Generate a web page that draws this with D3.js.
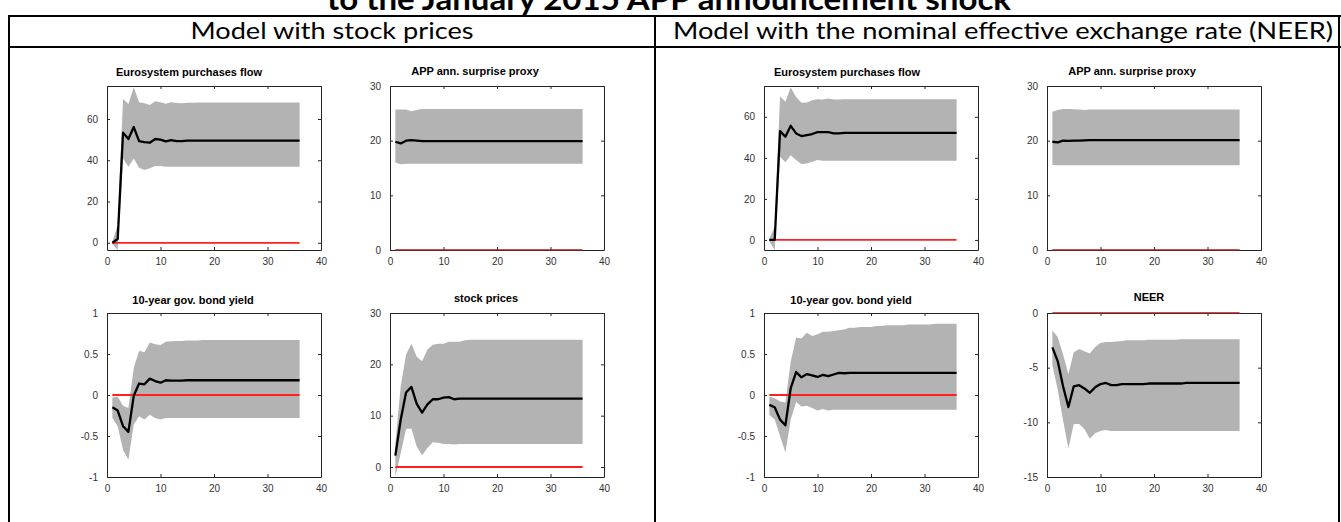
<!DOCTYPE html>
<html>
<head>
<meta charset="utf-8">
<script src="https://cdn.jsdelivr.net/npm/d3@7"></script>
<style>
body { margin: 0; background: #fff; }
svg { display: block; }
</style>
</head>
<body>
<div id="chart"></div>
<script>
// horizons (months after the shock)
var steps = d3.range(1, 37);
var xTicks = [0, 10, 20, 30, 40];

var titleText = "to the January 2015 APP announcement shock";
var columnTitles = ["Model with stock prices", "Model with the nominal effective exchange rate (NEER)"];
var panelTitles = ["Eurosystem purchases flow", "APP ann. surprise proxy", "10-year gov. bond yield", "stock prices",
                   "Eurosystem purchases flow", "APP ann. surprise proxy", "10-year gov. bond yield", "NEER"];

// ---- model with stock prices ----
var spFlowMed = [0, 1.8, 53.4, 50.3, 56.1, 49.3, 48.8, 48.5, 50.3, 50.0, 49.2, 49.8,
  49.3, 49.3, 49.5, 49.5, 49.5, 49.5, 49.5, 49.5, 49.5, 49.5, 49.5, 49.5,
  49.5, 49.5, 49.5, 49.5, 49.5, 49.5, 49.5, 49.5, 49.5, 49.5, 49.5, 49.5];
var spFlowHi = [0.6, 8.6, 69.7, 67.3, 75.4, 68.1, 67.6, 66.8, 68.6, 68.1, 67.4, 68.1,
  67.8, 67.6, 67.9, 67.9, 68.0, 68.0, 68.0, 68.0, 68.0, 68.0, 68.0, 68.0,
  68.0, 68.0, 68.0, 68.0, 68.0, 68.0, 68.0, 68.0, 68.0, 68.0, 68.0, 68.0];
var spFlowLo = [-0.6, -3.5, 40.9, 36.9, 40.8, 36.4, 35.3, 36.1, 37.2, 37.2, 36.9, 36.9,
  36.8, 36.8, 36.9, 36.9, 36.9, 36.9, 36.9, 36.9, 36.9, 36.9, 36.9, 36.9,
  36.9, 36.9, 36.9, 36.9, 36.9, 36.9, 36.9, 36.9, 36.9, 36.9, 36.9, 36.9];

var spAppMed = [19.8, 19.5, 20.0, 20.1, 20.0, 19.9, 19.9, 19.9, 19.9, 19.9, 19.9, 19.9,
  19.9, 19.9, 19.9, 19.9, 19.9, 19.9, 19.9, 19.9, 19.9, 19.9, 19.9, 19.9,
  19.9, 19.9, 19.9, 19.9, 19.9, 19.9, 19.9, 19.9, 19.9, 19.9, 19.9, 19.9];
var spAppHi = [25.7, 25.7, 25.7, 25.4, 25.6, 25.8, 25.8, 25.8, 25.8, 25.8, 25.8, 25.8,
  25.8, 25.8, 25.8, 25.8, 25.8, 25.8, 25.8, 25.8, 25.8, 25.8, 25.8, 25.8,
  25.8, 25.8, 25.8, 25.8, 25.8, 25.8, 25.8, 25.8, 25.8, 25.8, 25.8, 25.8];
var spAppLo = [16.0, 15.7, 15.8, 15.8, 15.8, 15.8, 15.8, 15.8, 15.8, 15.8, 15.8, 15.8,
  15.8, 15.8, 15.8, 15.8, 15.8, 15.8, 15.8, 15.8, 15.8, 15.8, 15.8, 15.8,
  15.8, 15.8, 15.8, 15.8, 15.8, 15.8, 15.8, 15.8, 15.8, 15.8, 15.8, 15.8];

var spYieldMed = [-0.15, -0.19, -0.38, -0.45, -0.01, 0.14, 0.13, 0.20, 0.17, 0.15, 0.18, 0.175,
  0.175, 0.175, 0.18, 0.18, 0.18, 0.18, 0.18, 0.18, 0.18, 0.18, 0.18, 0.18,
  0.18, 0.18, 0.18, 0.18, 0.18, 0.18, 0.18, 0.18, 0.18, 0.18, 0.18, 0.18];
var spYieldHi = [-0.03, -0.02, -0.13, -0.16, 0.33, 0.54, 0.52, 0.64, 0.62, 0.61, 0.65, 0.655,
  0.66, 0.66, 0.665, 0.665, 0.665, 0.67, 0.67, 0.67, 0.67, 0.67, 0.67, 0.67,
  0.67, 0.67, 0.67, 0.67, 0.67, 0.67, 0.67, 0.67, 0.67, 0.67, 0.67, 0.67];
var spYieldLo = [-0.28, -0.38, -0.67, -0.79, -0.36, -0.26, -0.30, -0.24, -0.28, -0.30, -0.28, -0.28,
  -0.28, -0.28, -0.28, -0.28, -0.28, -0.28, -0.28, -0.28, -0.28, -0.28, -0.28, -0.28,
  -0.28, -0.28, -0.28, -0.28, -0.28, -0.28, -0.28, -0.28, -0.28, -0.28, -0.28, -0.28];

var spStockMed = [2.2, 9.2, 14.5, 15.6, 12.3, 10.6, 12.2, 13.2, 13.2, 13.5, 13.6, 13.2,
  13.3, 13.3, 13.3, 13.3, 13.3, 13.3, 13.3, 13.3, 13.3, 13.3, 13.3, 13.3,
  13.3, 13.3, 13.3, 13.3, 13.3, 13.3, 13.3, 13.3, 13.3, 13.3, 13.3, 13.3];
var spStockHi = [4.5, 15.7, 21.9, 24.0, 21.5, 20.6, 22.9, 23.8, 24.0, 24.0, 24.4, 24.4,
  24.4, 24.7, 24.8, 24.8, 24.8, 24.8, 24.8, 24.8, 24.8, 24.8, 24.8, 24.8,
  24.8, 24.8, 24.8, 24.8, 24.8, 24.8, 24.8, 24.8, 24.8, 24.8, 24.8, 24.8];
var spStockLo = [-1.9, 2.7, 7.4, 7.5, 4.0, 2.3, 3.7, 4.8, 4.7, 4.5, 4.5, 4.4,
  4.5, 4.5, 4.5, 4.5, 4.5, 4.5, 4.5, 4.5, 4.5, 4.5, 4.5, 4.5,
  4.5, 4.5, 4.5, 4.5, 4.5, 4.5, 4.5, 4.5, 4.5, 4.5, 4.5, 4.5];

// ---- model with the NEER ----
var neFlowMed = [0, 0, 53.0, 50.3, 55.6, 51.9, 50.6, 51.1, 51.6, 52.5, 52.5, 52.5,
  51.9, 51.9, 52.2, 52.2, 52.2, 52.2, 52.2, 52.2, 52.2, 52.2, 52.2, 52.2,
  52.2, 52.2, 52.2, 52.2, 52.2, 52.2, 52.2, 52.2, 52.2, 52.2, 52.2, 52.2];
var neFlowHi = [0.6, 6.5, 70.0, 67.3, 74.3, 69.7, 66.8, 67.0, 68.1, 68.6, 68.4, 68.9,
  68.4, 68.4, 68.5, 68.6, 68.6, 68.6, 68.6, 68.6, 68.6, 68.6, 68.6, 68.6,
  68.6, 68.6, 68.6, 68.6, 68.6, 68.6, 68.6, 68.6, 68.6, 68.6, 68.6, 68.6];
var neFlowLo = [-0.6, -4.9, 40.5, 37.8, 41.3, 38.9, 37.0, 37.3, 38.1, 38.9, 38.6, 38.6,
  38.6, 38.6, 38.6, 38.6, 38.6, 38.6, 38.6, 38.6, 38.6, 38.6, 38.6, 38.6,
  38.6, 38.6, 38.6, 38.6, 38.6, 38.6, 38.6, 38.6, 38.6, 38.6, 38.6, 38.6];

var neAppMed = [19.8, 19.7, 20.0, 19.95, 20.0, 20.0, 20.05, 20.1, 20.1, 20.1, 20.1, 20.1,
  20.1, 20.1, 20.1, 20.1, 20.1, 20.1, 20.1, 20.1, 20.1, 20.1, 20.1, 20.1,
  20.1, 20.1, 20.1, 20.1, 20.1, 20.1, 20.1, 20.1, 20.1, 20.1, 20.1, 20.1];
var neAppHi = [25.3, 25.6, 25.8, 25.8, 25.75, 25.7, 25.6, 25.7, 25.7, 25.7, 25.7, 25.7,
  25.7, 25.7, 25.7, 25.7, 25.7, 25.7, 25.7, 25.7, 25.7, 25.7, 25.7, 25.7,
  25.7, 25.7, 25.7, 25.7, 25.7, 25.7, 25.7, 25.7, 25.7, 25.7, 25.7, 25.7];
var neAppLo = [15.6, 15.5, 15.5, 15.5, 15.5, 15.5, 15.5, 15.5, 15.5, 15.5, 15.5, 15.5,
  15.5, 15.5, 15.5, 15.5, 15.5, 15.5, 15.5, 15.5, 15.5, 15.5, 15.5, 15.5,
  15.5, 15.5, 15.5, 15.5, 15.5, 15.5, 15.5, 15.5, 15.5, 15.5, 15.5, 15.5];

var neYieldMed = [-0.12, -0.15, -0.30, -0.37, 0.085, 0.28, 0.215, 0.255, 0.24, 0.22, 0.245, 0.23,
  0.25, 0.27, 0.265, 0.27, 0.27, 0.27, 0.27, 0.27, 0.27, 0.27, 0.27, 0.27,
  0.27, 0.27, 0.27, 0.27, 0.27, 0.27, 0.27, 0.27, 0.27, 0.27, 0.27, 0.27];
var neYieldHi = [-0.02, -0.04, -0.08, -0.09, 0.41, 0.70, 0.69, 0.76, 0.72, 0.74, 0.77, 0.77,
  0.78, 0.79, 0.80, 0.82, 0.82, 0.83, 0.83, 0.83, 0.84, 0.84, 0.85, 0.85,
  0.85, 0.85, 0.86, 0.86, 0.86, 0.86, 0.86, 0.87, 0.87, 0.87, 0.87, 0.87];
var neYieldLo = [-0.24, -0.30, -0.50, -0.70, -0.30, -0.085, -0.14, -0.13, -0.16, -0.19, -0.17, -0.19,
  -0.18, -0.18, -0.18, -0.18, -0.18, -0.18, -0.18, -0.18, -0.18, -0.18, -0.18, -0.18,
  -0.18, -0.18, -0.18, -0.18, -0.18, -0.18, -0.18, -0.18, -0.18, -0.18, -0.18, -0.18];

var neNeerMed = [-3.15, -4.4, -6.7, -8.6, -6.7, -6.6, -6.9, -7.3, -6.8, -6.5, -6.4, -6.6,
  -6.6, -6.5, -6.5, -6.5, -6.5, -6.5, -6.45, -6.45, -6.45, -6.45, -6.45, -6.45,
  -6.45, -6.4, -6.4, -6.4, -6.4, -6.4, -6.4, -6.4, -6.4, -6.4, -6.4, -6.4];
var neNeerHi = [-1.6, -2.2, -3.8, -5.6, -3.6, -3.3, -3.5, -3.7, -3.1, -2.75, -2.65, -2.65,
  -2.6, -2.55, -2.5, -2.5, -2.5, -2.5, -2.45, -2.45, -2.45, -2.45, -2.45, -2.45,
  -2.4, -2.4, -2.4, -2.4, -2.4, -2.4, -2.4, -2.4, -2.4, -2.4, -2.4, -2.4];
var neNeerLo = [-4.75, -7.0, -9.8, -12.4, -10.15, -10.15, -10.6, -11.5, -11.0, -10.8, -10.7, -10.8,
  -10.8, -10.8, -10.8, -10.8, -10.8, -10.8, -10.8, -10.8, -10.8, -10.8, -10.8, -10.8,
  -10.8, -10.8, -10.8, -10.8, -10.8, -10.8, -10.8, -10.8, -10.8, -10.8, -10.8, -10.8];

// y axis ranges (tight, as in the figure) and ticks
var yDomains = [[-3.5, 76], [0, 30], [-1, 1], [-1.95, 30], [-4.9, 75], [0, 30], [-1, 1], [-15, 0]];
var yTicks = [[0, 20, 40, 60], [0, 10, 20, 30], [-1, -0.5, 0, 0.5, 1], [0, 10, 20, 30],
              [0, 20, 40, 60], [0, 10, 20, 30], [-1, -0.5, 0, 0.5, 1], [-15, -10, -5, 0]];

var series = [
  [spFlowMed, spFlowLo, spFlowHi], [spAppMed, spAppLo, spAppHi],
  [spYieldMed, spYieldLo, spYieldHi], [spStockMed, spStockLo, spStockHi],
  [neFlowMed, neFlowLo, neFlowHi], [neAppMed, neAppLo, neAppHi],
  [neYieldMed, neYieldLo, neYieldHi], [neNeerMed, neNeerLo, neNeerHi]
];

// layout
var W = 1341, H = 522;
var plotW = 214, plotH = 164;
var boxLeft = [107, 390, 107, 390, 764, 1047, 764, 1047];
var boxTop = [86, 86, 313, 313, 86, 86, 313, 313];
var titleX = [189, 475, 193, 486, 847, 1132, 851, 1149];
var titleY = [76, 75, 304, 302, 76, 75, 304, 301];

var svg = d3.select("#chart").append("svg")
  .attr("width", W)
  .attr("height", H);

// heading (cut off at the top of the picture, as in the source)
svg.append("text")
  .attr("x", 669)
  .attr("y", 10)
  .attr("text-anchor", "middle")
  .attr("textLength", 684)
  .attr("lengthAdjust", "spacingAndGlyphs")
  .style("font-family", "Lato, 'Open Sans', sans-serif")
  .style("font-weight", "bold")
  .style("font-size", "30px")
  .attr("fill", "#000")
  .text(titleText);

// table frame
var frame = svg.append("g")
  .attr("stroke", "#000")
  .attr("stroke-width", 2);
frame.append("line").attr("x1", 8).attr("y1", 16).attr("x2", W).attr("y2", 16);
frame.append("line").attr("x1", 8).attr("y1", 47).attr("x2", W).attr("y2", 47);
[9, 655, 1339].forEach(function(xv) {
  frame.append("line").attr("x1", xv).attr("y1", 15).attr("x2", xv).attr("y2", H);
});

var headX = [332, 1003];
var headLen = [283, 660];
columnTitles.forEach(function(t, i) {
  svg.append("text")
    .attr("x", headX[i])
    .attr("y", 39)
    .attr("text-anchor", "middle")
    .attr("textLength", headLen[i])
    .attr("lengthAdjust", "spacingAndGlyphs")
    .style("font-family", "Lato, 'Open Sans', sans-serif")
    .style("font-size", "24px")
    .attr("fill", "#000")
    .text(t);
});

function drawPanel(i) {
  var med = series[i][0], lo = series[i][1], hi = series[i][2];
  var x = d3.scaleLinear().domain([0, 40]).range([boxLeft[i], boxLeft[i] + plotW]);
  var y = d3.scaleLinear().domain(yDomains[i]).range([boxTop[i] + plotH, boxTop[i]]);
  var g = svg.append("g");

  var band = d3.area()
    .x(function(d, k) { return x(steps[k]); })
    .y0(function(d, k) { return y(lo[k]); })
    .y1(function(d, k) { return y(hi[k]); });
  g.append("path")
    .datum(med)
    .attr("d", band)
    .attr("fill", "#b3b3b3");

  var line = d3.line()
    .x(function(d, k) { return x(steps[k]); })
    .y(function(d) { return y(d); });

  var zeros = steps.map(function() { return 0; });
  var zeroOnEdge = (yDomains[i][0] === 0 || yDomains[i][1] === 0);

  // zero line inside the plot
  if (!zeroOnEdge) {
    g.append("path")
      .datum(zeros)
      .attr("d", line)
      .attr("fill", "none")
      .attr("stroke", "#ff2020")
      .attr("stroke-width", 1.8);
  }

  g.append("path")
    .datum(med)
    .attr("d", line)
    .attr("fill", "none")
    .attr("stroke", "#000")
    .attr("stroke-width", 2.3)
    .attr("stroke-linejoin", "round");

  // box with inward ticks
  var bottom = g.append("g")
    .attr("transform", "translate(0," + (boxTop[i] + plotH) + ")")
    .call(d3.axisBottom(x).tickValues(xTicks).tickSize(-3).tickSizeOuter(0).tickPadding(8));
  var top = g.append("g")
    .attr("transform", "translate(0," + boxTop[i] + ")")
    .call(d3.axisTop(x).tickValues(xTicks).tickSize(-3).tickSizeOuter(0).tickFormat(""));
  var left = g.append("g")
    .attr("transform", "translate(" + boxLeft[i] + ",0)")
    .call(d3.axisLeft(y).tickValues(yTicks[i]).tickSize(-3).tickSizeOuter(0).tickPadding(9)
      .tickFormat(function(d) { return String(d); }));
  var right = g.append("g")
    .attr("transform", "translate(" + (boxLeft[i] + plotW) + ",0)")
    .call(d3.axisRight(y).tickValues(yTicks[i]).tickSize(-3).tickSizeOuter(0).tickFormat(""));

  [bottom, top, left, right].forEach(function(a) {
    a.selectAll("path, line").attr("stroke", "#262626").attr("stroke-width", 1);
    a.selectAll("text")
      .attr("fill", "#333")
      .style("font-family", "'Liberation Sans', Arial, sans-serif")
      .style("font-size", "10px");
  });

  // zero line lying on the box edge shows up dark red
  if (zeroOnEdge) {
    g.append("path")
      .datum(zeros)
      .attr("d", line)
      .attr("fill", "none")
      .attr("stroke", "#9b1f1f")
      .attr("stroke-width", 1.6);
  }

  g.append("text")
    .attr("x", titleX[i])
    .attr("y", titleY[i])
    .attr("text-anchor", "middle")
    .attr("fill", "#000")
    .style("font-family", "'Liberation Sans', Arial, sans-serif")
    .style("font-weight", "bold")
    .style("font-size", "11px")
    .text(panelTitles[i]);
}

for (var i = 0; i < 8; i++) drawPanel(i);
</script>
</body>
</html>
